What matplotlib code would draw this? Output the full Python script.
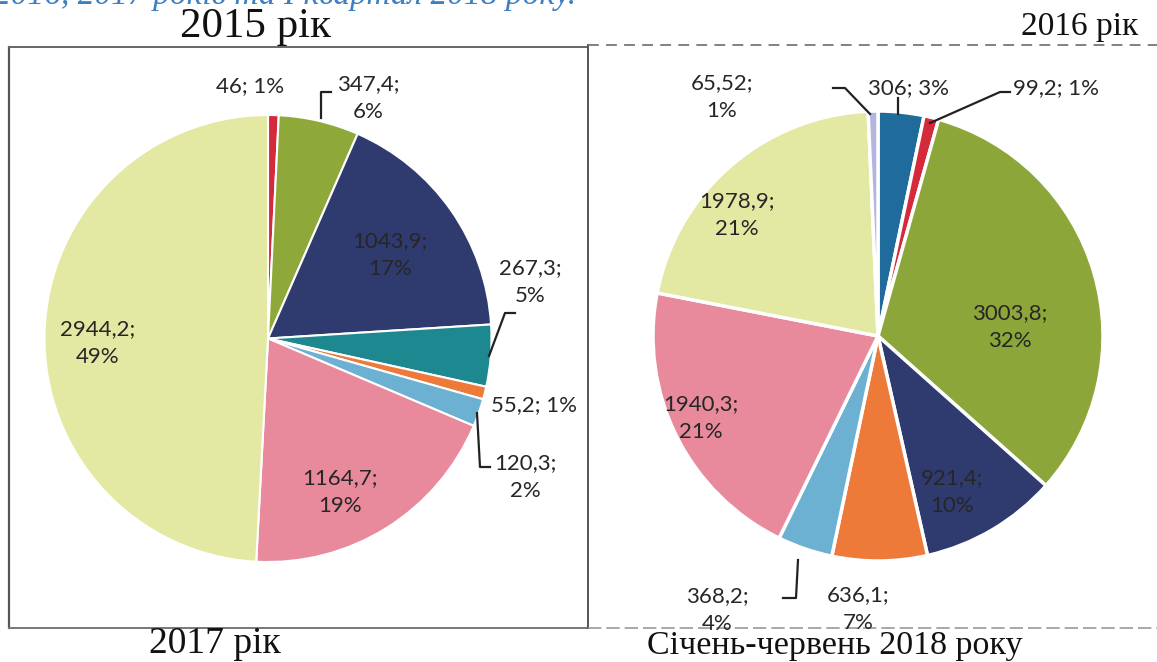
import matplotlib
matplotlib.use("Agg")
import matplotlib.pyplot as plt

# ---------------- data ----------------
left_values = [46, 347.4, 1043.9, 267.3, 55.2, 120.3, 1164.7, 2944.2]
left_labels = ["46; 1%", "347,4;\n6%", "1043,9;\n17%", "267,3;\n5%", "55,2; 1%",
               "120,3;\n2%", "1164,7;\n19%", "2944,2;\n49%"]
left_colors = ["#D42A3C", "#8FA83A", "#2F3B6E", "#1E8890", "#EE7A3A",
               "#6CB0D2", "#E88A9C", "#E3E8A2"]

right_values = [306, 99.2, 3003.8, 921.4, 636.1, 368.2, 1940.3, 1978.9, 65.52]
right_labels = ["306; 3%", "99,2; 1%", "3003,8;\n32%", "921,4;\n10%", "636,1;\n7%",
                "368,2;\n4%", "1940,3;\n21%", "1978,9;\n21%", "65,52;\n1%"]
right_colors = ["#1F6C9C", "#D42A3C", "#8CA63A", "#2F3B6E", "#EE7A3A",
                "#6CB0D2", "#E88A9C", "#E3E8A2", "#B3B5DC"]

titles = ["2015 рік", "2016 рік", "2017 рік", "Січень-червень 2018 року"]
caption = "2016, 2017 років та І квартал 2018 року."

W, H = 1157, 662
fig = plt.figure(figsize=(W / 100, H / 100), dpi=100)


def pie_axes(cx, cy, r):
    return fig.add_axes([(cx - r) / W, (H - cy - r) / H, 2 * r / W, 2 * r / H], zorder=1)


axL = pie_axes(268, 338.5, 223.5)
axL.pie(left_values, colors=left_colors, startangle=90, counterclock=False,
        wedgeprops=dict(edgecolor="white", linewidth=1.5))
axL.set_xlim(-1, 1); axL.set_ylim(-1, 1)

axR = pie_axes(878, 336, 225)
axR.pie(right_values, colors=right_colors, startangle=90, counterclock=False,
        wedgeprops=dict(edgecolor="white", linewidth=2.5))
axR.set_xlim(-1, 1); axR.set_ylim(-1, 1)

# overlay in pixel coordinates for frames, labels and leaders
ov = fig.add_axes([0, 0, 1, 1], zorder=5)
ov.set_xlim(0, W); ov.set_ylim(H, 0)
ov.axis("off")

# frames
ov.plot([9, 9], [47, 628], color="#555555", lw=1.6)
ov.plot([9, 588], [47, 47], color="#666666", lw=1.4)
ov.plot([9, 588], [628, 628], color="#777777", lw=1.4)
ov.plot([588, 588], [45, 628], color="#555555", lw=1.4)
ov.plot([588, 1157], [45, 45], color="#777777", lw=1.3, ls=(0, (6, 4)))
ov.plot([588, 1157], [628, 628], color="#999999", lw=1.2, ls=(0, (8, 3)))

# titles
serif = "Liberation Serif"
ov.text(256, 27, titles[0], fontsize=31, family=serif, ha="center", va="center", color="#111111")
ov.text(1080, 27, titles[1], fontsize=24, family=serif, ha="center", va="center", color="#111111")
ov.text(215, 644, titles[2], fontsize=27, family=serif, ha="center", va="center", color="#111111")
ov.text(835, 646, titles[3], fontsize=24.5, family=serif, ha="center", va="center", color="#111111")
ov.text(-6, 4, caption, fontsize=24, family=serif, style="italic", ha="left",
        va="baseline", color="#3D7FC0")

lab = dict(fontsize=16, family="Lato", color="#262626", ha="center", va="center",
           linespacing=1.5)

# left labels
left_pos = [(250, 86), (368, 98), (390, 255), (530, 282), (534, 405),
            (525, 477), (340, 492), (98, 343)]
for (x, y), t in zip(left_pos, left_labels):
    ov.text(x, y, t, **lab)

# right labels
right_pos = [(908, 88), (1056, 88), (1010, 327), (952, 492), (858, 609),
             (717, 610), (701, 418), (737, 215), (722, 97)]
for (x, y), t in zip(right_pos, right_labels):
    ov.text(x, y, t, **lab)

# leader lines
lc = dict(color="#222222", lw=1.6)
ov.plot([321, 321, 331], [118, 92, 92], **lc)
ov.plot([489, 505, 515], [356, 313, 313], **lc)
ov.plot([477, 480, 490], [413, 467, 467], **lc)
ov.plot([870, 845, 833], [114, 88, 88], **lc)
ov.plot([898, 898], [114, 98], **lc)
ov.plot([930, 1000, 1010], [123, 92, 92], **lc)
ov.plot([798, 796, 783], [560, 598, 598], **lc)

fig.savefig("out.png", dpi=100)
